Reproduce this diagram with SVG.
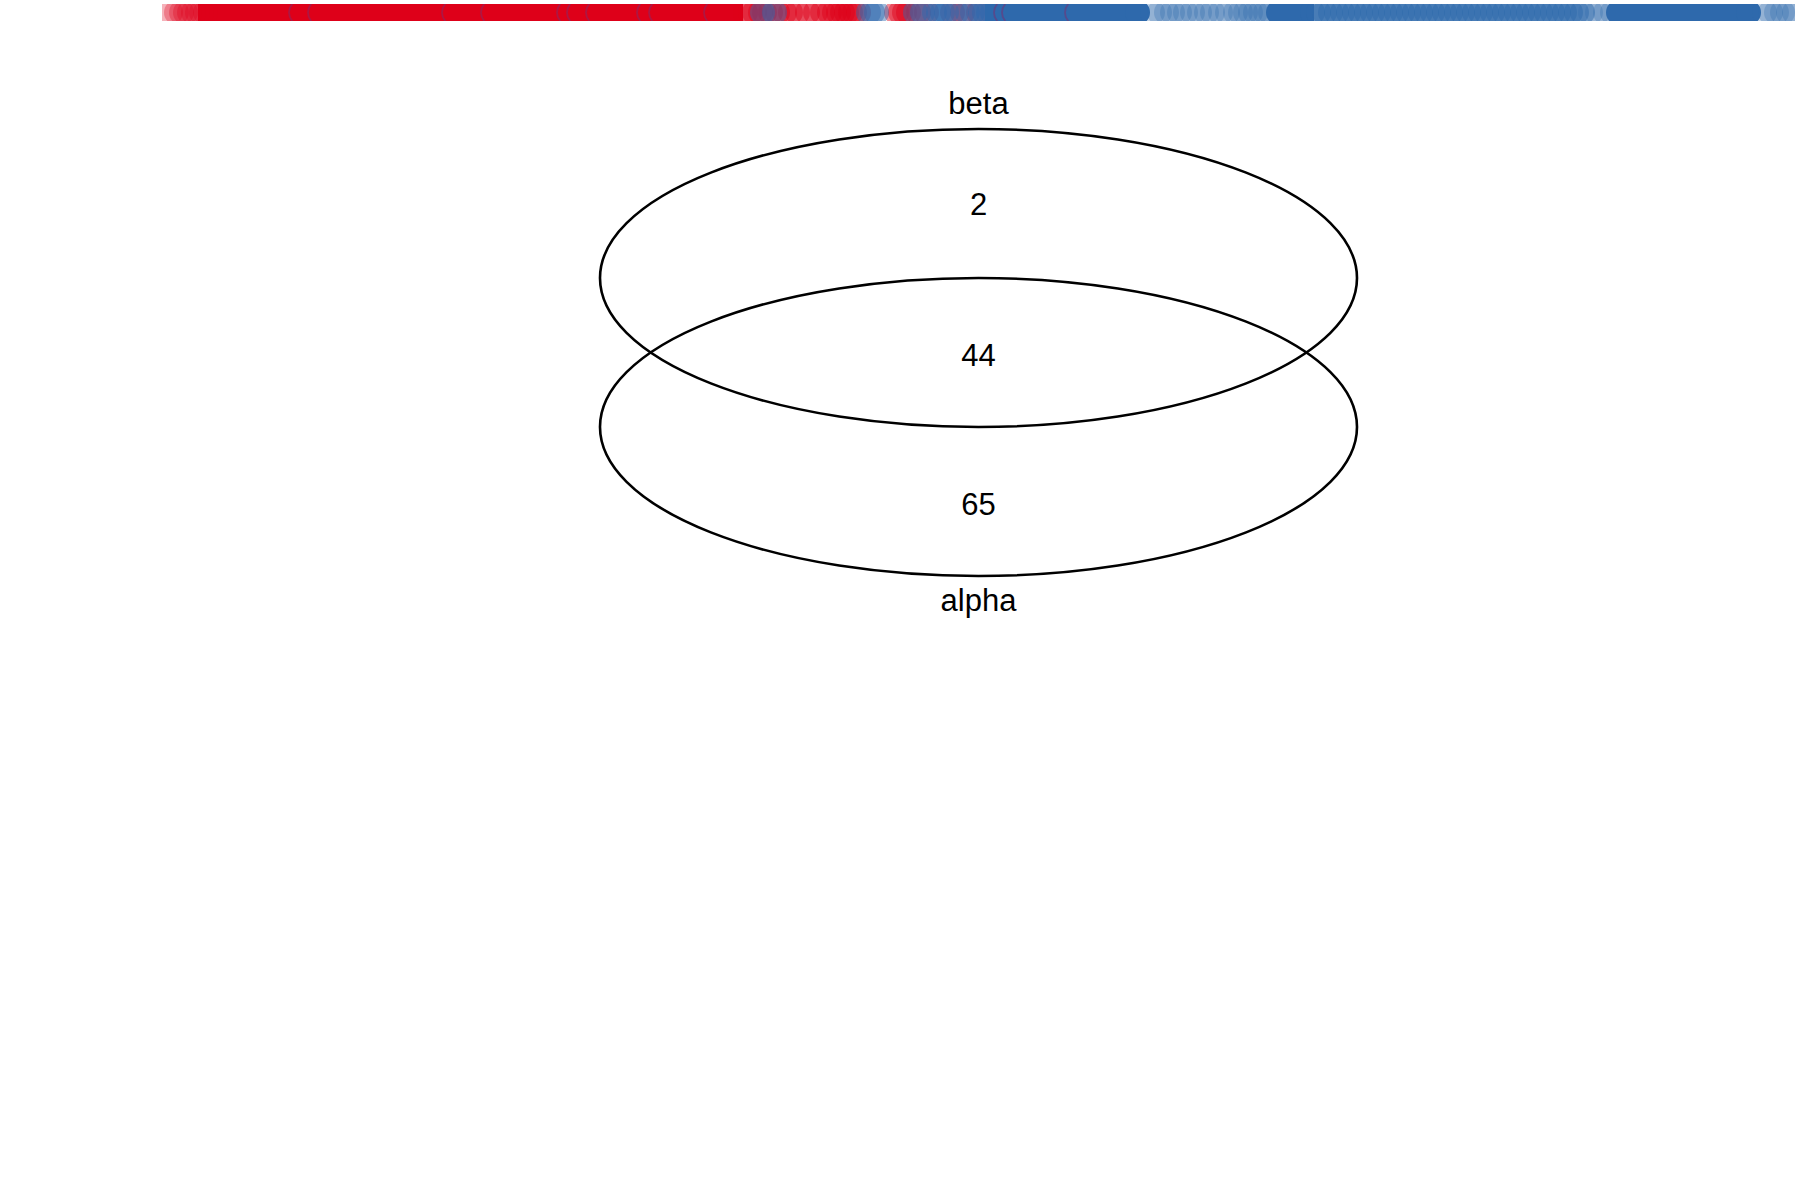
<svg xmlns="http://www.w3.org/2000/svg" width="1800" height="1200" viewBox="0 0 1800 1200">
<style>
.t{font-family:"Liberation Sans",Arial,sans-serif;font-size:31px;fill:#000;text-anchor:middle}
.set{fill:none;stroke:#000;stroke-width:2.6}
.R{fill:#DE0019}
.B{fill:#2E69AC}
.r{fill:#DE0019;fill-opacity:.45}
.rl{fill:#DE0019;fill-opacity:.3}
.b{fill:#2E69AC;fill-opacity:.45}
.bm{fill:#2E69AC;fill-opacity:.5}
.bl{fill:#2E69AC;fill-opacity:.3}
.a{fill:none;stroke:#7D2C6E;stroke-opacity:.5;stroke-width:1.8}
</style>
<defs>
<clipPath id="barclip"><rect x="162" y="4" width="1633" height="17"/></clipPath>
<circle id="c" cx="12.5" cy="12.5" r="12.5"/>
<path id="arc" d="M3.33,4 A12.5,12.5 0 0 0 3.33,21"/>
</defs>
<rect width="1800" height="1200" fill="#fff"/>
<g id="barcode" clip-path="url(#barclip)">
  <rect class="R" x="198" y="4" width="545" height="17"/>
  <g class="rl">
    <use href="#c" x="158"/><use href="#c" x="164"/><use href="#c" x="169"/><use href="#c" x="173"/><use href="#c" x="177"/><use href="#c" x="181"/><use href="#c" x="185"/><use href="#c" x="189"/><use href="#c" x="193"/>
  </g>
  <g class="r">
    <use href="#c" x="733"/><use href="#c" x="738"/><use href="#c" x="742"/><use href="#c" x="748"/><use href="#c" x="752"/><use href="#c" x="758"/><use href="#c" x="765"/><use href="#c" x="772"/>
    <use href="#c" x="778"/><use href="#c" x="785"/><use href="#c" x="795"/><use href="#c" x="803"/><use href="#c" x="810"/><use href="#c" x="817"/>
    <use href="#c" x="822"/><use href="#c" x="826"/><use href="#c" x="830"/><use href="#c" x="834"/><use href="#c" x="838"/><use href="#c" x="842"/><use href="#c" x="846"/>
    <use href="#c" x="884"/><use href="#c" x="888"/><use href="#c" x="892"/><use href="#c" x="896"/>
    <use href="#c" x="906"/><use href="#c" x="914"/>
    <use href="#c" x="940"/><use href="#c" x="950"/><use href="#c" x="966"/>
  </g>
  <g class="b">
    <use href="#c" x="750"/><use href="#c" x="762"/>
    <use href="#c" x="856"/><use href="#c" x="860"/><use href="#c" x="864"/>
    <use href="#c" x="903"/><use href="#c" x="910"/>
    <use href="#c" x="922"/><use href="#c" x="926"/><use href="#c" x="930"/><use href="#c" x="934"/>
    <use href="#c" x="944"/><use href="#c" x="955"/><use href="#c" x="960"/>
    <use href="#c" x="968"/><use href="#c" x="972"/><use href="#c" x="976"/><use href="#c" x="980"/>
  </g>
  <rect class="B" x="985" y="4" width="152" height="17"/>
  <use class="B" href="#c" x="1125"/>
  <g class="bl">
    <use href="#c" x="1140"/><use href="#c" x="1147"/><use href="#c" x="1154"/><use href="#c" x="1160"/><use href="#c" x="1167"/><use href="#c" x="1173"/><use href="#c" x="1180"/><use href="#c" x="1187"/><use href="#c" x="1194"/><use href="#c" x="1200"/><use href="#c" x="1208"/><use href="#c" x="1215"/><use href="#c" x="1223"/><use href="#c" x="1228"/><use href="#c" x="1233"/><use href="#c" x="1238"/><use href="#c" x="1243"/><use href="#c" x="1248"/><use href="#c" x="1253"/><use href="#c" x="1258"/>
  </g>
  <use class="B" href="#c" x="1266"/>
  <rect class="B" x="1278" y="4" width="36" height="17"/>
  <g class="bm">
    <use href="#c" x="1300"/><use href="#c" x="1306"/><use href="#c" x="1312"/><use href="#c" x="1318"/><use href="#c" x="1324"/><use href="#c" x="1330"/><use href="#c" x="1336"/><use href="#c" x="1342"/><use href="#c" x="1348"/><use href="#c" x="1354"/><use href="#c" x="1360"/><use href="#c" x="1366"/><use href="#c" x="1372"/><use href="#c" x="1378"/><use href="#c" x="1384"/><use href="#c" x="1390"/><use href="#c" x="1396"/><use href="#c" x="1402"/><use href="#c" x="1408"/><use href="#c" x="1414"/><use href="#c" x="1420"/><use href="#c" x="1426"/><use href="#c" x="1432"/><use href="#c" x="1438"/><use href="#c" x="1444"/><use href="#c" x="1450"/><use href="#c" x="1456"/><use href="#c" x="1462"/><use href="#c" x="1468"/><use href="#c" x="1474"/><use href="#c" x="1480"/><use href="#c" x="1486"/><use href="#c" x="1492"/><use href="#c" x="1498"/><use href="#c" x="1504"/><use href="#c" x="1510"/><use href="#c" x="1516"/><use href="#c" x="1522"/><use href="#c" x="1528"/><use href="#c" x="1534"/><use href="#c" x="1540"/><use href="#c" x="1546"/><use href="#c" x="1552"/><use href="#c" x="1558"/><use href="#c" x="1564"/><use href="#c" x="1570"/>
  </g>
  <g class="bl">
    <use href="#c" x="1578"/><use href="#c" x="1585"/><use href="#c" x="1593"/><use href="#c" x="1600"/>
  </g>
  <use class="B" href="#c" x="1606"/>
  <rect class="B" x="1618" y="4" width="132" height="17"/>
  <use class="B" href="#c" x="1736"/>
  <g class="bl">
    <use href="#c" x="1752"/><use href="#c" x="1758"/><use href="#c" x="1764"/><use href="#c" x="1770"/><use href="#c" x="1776"/><use href="#c" x="1782"/>
  </g>
  <g class="a">
    <use href="#arc" x="289"/><use href="#arc" x="308"/><use href="#arc" x="442"/><use href="#arc" x="481"/><use href="#arc" x="557"/><use href="#arc" x="567"/><use href="#arc" x="586"/><use href="#arc" x="637"/><use href="#arc" x="649"/><use href="#arc" x="704"/>
    <use href="#arc" x="994"/><use href="#arc" x="1002"/><use href="#arc" x="1065"/>
  </g>
</g>
<g id="beta">
  <ellipse class="set" cx="978.5" cy="278" rx="378.5" ry="149"/>
  <text class="t" x="978.5" y="114">beta</text>
</g>
<g id="alpha">
  <ellipse class="set" cx="978.5" cy="427" rx="378.5" ry="149"/>
  <text class="t" x="978.5" y="611">alpha</text>
</g>
<g id="counts">
  <text class="t" x="978.5" y="215">2</text>
  <text class="t" x="978.5" y="366">44</text>
  <text class="t" x="978.5" y="515">65</text>
</g>
</svg>
